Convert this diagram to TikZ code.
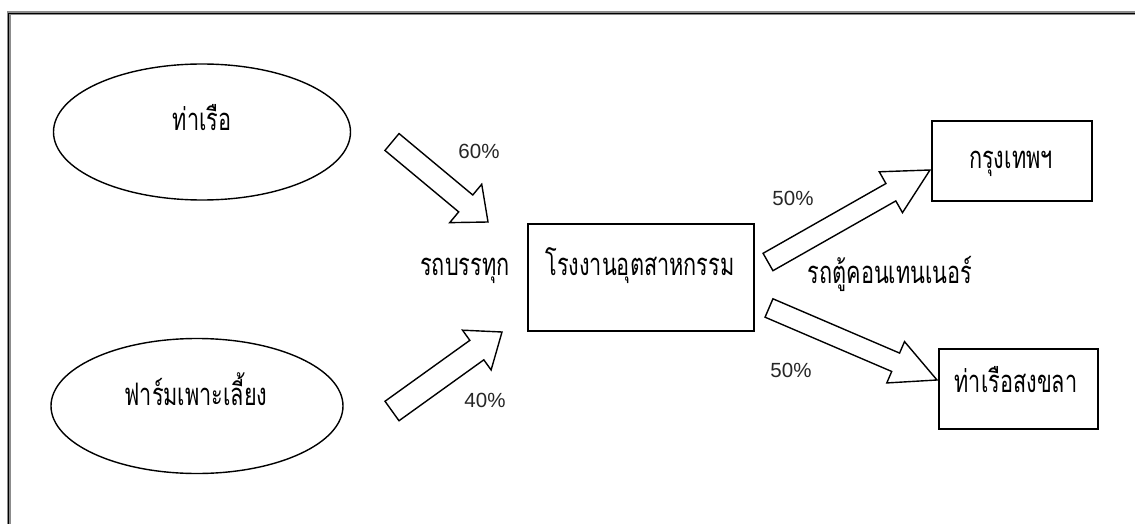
\documentclass[tikz,border=0pt]{standalone}
\usepackage{fontspec}
\usetikzlibrary{calc,shapes.geometric}
\newfontfamily\thai[Script=Thai,FakeStretch=0.7]{Loma}
\newfontfamily\latin{Liberation Sans}

% hollow block arrow: #1 tail, #2 tip, #3 shaft half width, #4 head half width, #5 head length
\newcommand\flowarrow[5]{%
  \coordinate (fa-base) at ($(#2)!#5!(#1)$);
  \draw[flowshape]
    ($(#1)!#3!90:(#2)$) -- ($(fa-base)!#3!90:(#2)$) -- ($(fa-base)!#4!90:(#2)$)
    -- (#2)
    -- ($(fa-base)!#4!-90:(#2)$) -- ($(fa-base)!#3!-90:(#2)$) -- ($(#1)!#3!-90:(#2)$)
    -- cycle;}

\tikzset{
  place/.style={ellipse, draw, line width=1.4pt, inner sep=0pt},
  site/.style={rectangle, draw, line width=1.8pt, inner sep=0pt},
  thaitext/.style={anchor=base, inner sep=0pt, font=\thai\fontsize{31}{33}\selectfont},
  pct/.style={anchor=base, inner sep=0pt, font=\latin\fontsize{20.5}{22}\selectfont, text=black!85},
  flowshape/.style={draw, line width=1.4pt, line join=miter, fill=white},
}

\begin{document}
\begin{tikzpicture}[x=1pt, y=-1pt]
  \useasboundingbox (0,0) rectangle (1135,524);
  \fill[white] (0,0) rectangle (1135,524);

  % outer frame (top and left edges)
  \draw[black!45, line width=4pt] (8.5,524) -- (8.5,13.5) -- (1135,13.5);
  \draw[black, line width=1.6pt] (8.5,524) -- (8.5,13.5) -- (1135,13.5);

  % sources
  \node[place, minimum width=297pt, minimum height=136pt] (port) at (202,132) {};
  \node[thaitext] (port-t) at (202,131) {ท่าเรือ};
  \node[place, minimum width=292pt, minimum height=135pt] (farm) at (197,406) {};
  \node[thaitext] (farm-t) at (196,405) {ฟาร์มเพาะเลี้ยง};

  % factory and destinations
  \node[site, minimum width=226pt, minimum height=107pt] (factory) at (641,277.5) {};
  \node[thaitext] (factory-t) at (640,275) {โรงงานอุตสาหกรรม};
  \node[site, minimum width=160pt, minimum height=80pt] (bkk) at (1012,161) {};
  \node[thaitext] (bkk-t) at (1011,168) {กรุงเทพฯ};
  \node[site, minimum width=159pt, minimum height=80pt] (skl) at (1018.5,389) {};
  \node[thaitext] (skl-t) at (1016,392) {ท่าเรือสงขลา};

  % flow arrows
  \coordinate (a1-tail) at (392,142); \coordinate (a1-tip) at (488,222);
  \coordinate (a2-tail) at (392,411); \coordinate (a2-tip) at (502,332);
  \coordinate (a3-tail) at (768,262); \coordinate (a3-tip) at (930,170);
  \coordinate (a4-tail) at (769,308); \coordinate (a4-tip) at (937,380);
  \flowarrow{a1-tail}{a1-tip}{11pt}{25pt}{29pt}
  \flowarrow{a2-tail}{a2-tip}{12pt}{24.5pt}{31pt}
  \flowarrow{a3-tail}{a3-tip}{10pt}{23.5pt}{45pt}
  \flowarrow{a4-tail}{a4-tip}{10pt}{22.5pt}{45pt}

  % transport modes and shares
  \node[thaitext] (truck) at (465,275) {รถบรรทุก};
  \node[thaitext] (container) at (890,283) {รถตู้คอนเทนเนอร์};
  \node[pct] (p60) at (479,159) {60\%};
  \node[pct] (p40) at (485,407) {40\%};
  \node[pct] (p50a) at (793,205) {50\%};
  \node[pct] (p50b) at (791,377) {50\%};
\end{tikzpicture}
\end{document}
